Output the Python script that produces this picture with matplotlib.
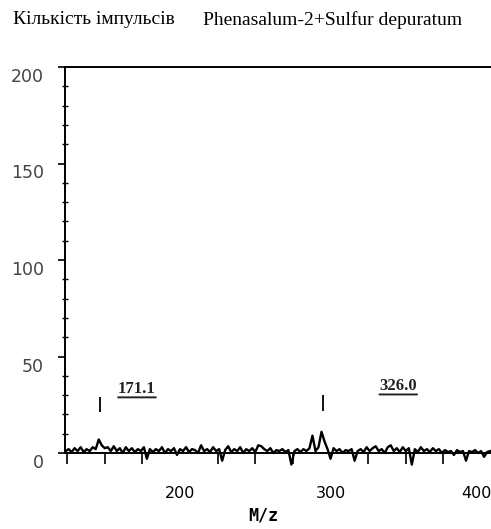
import numpy as np
import matplotlib
matplotlib.use("Agg")
import matplotlib.pyplot as plt
from matplotlib.transforms import ScaledTranslation

# спектр: m/z з кроком 2 і інтенсивність (кількість імпульсів)
mz = np.arange(124, 407, 2)
intensity = [
    1, 2, 0.5, 2.5, 1, 3, 0.5, 2, 1, 3,
    2, 7, 4, 2.5, 3, 1, 3.5, 1, 2.5, 0,
    3, 1, 2.5, 0.5, 2, 1, 3, -3, 2, 0.5,
    2, 1, 3, 0, 2, 1, 2.5, -1, 2, 1,
    3, 0.5, 2, 1.5, 0, 4, 1, 2, 0.5, 3,
    1, 2, -4, 1.5, 3.5, 0.5, 2, 1, 3, 0,
    2, 1, 2.5, 0.5, 4, 3.5, 2, 1, 2.5, 0,
    1.5, 1, 2, 0.5, 1.5, -6, 1, 2, 0.5, 2,
    1, 2.5, 9, 1, 3, 11, 6, 2, -3, 2.5,
    1, 2, 0, 1.5, 1, 2, -4, 1, 2, 0.5,
    3, 1, 2.5, 3.5, 1, 2, 0, 3, 4, 1,
    2.5, 0.5, 3, 1, 2.5, -6, 2, 0.5, 3, 1,
    2, 0.5, 2.5, 1, 2, 0, 1.5, 0.5, 1, -1,
    1.5, 0.5, 1, -4, 1, 0.5, 1.5, 0, 1, -2,
    0.5, 1,
]

# позначки піків
marker_mz = [147, 295]
marker_lo = [21, 22]
marker_hi = [29, 30]
label_mz = [171.4, 345]
label_y = [29, 30.5]
label_text = ["171.1", "326.0"]

xtick_vals = [200, 300, 400]
ytick_vals = [0, 50, 100, 150, 200]

fig = plt.figure(figsize=(4.91, 5.29), dpi=100)
ax = fig.add_axes([65 / 491, 76 / 529, 426 / 491, 386 / 529])

ax.plot(mz, intensity, color="black", lw=1.7, clip_on=False)
ax.vlines(marker_mz, marker_lo, marker_hi, color="black", lw=1.3)
for x, y, t in zip(label_mz, label_y, label_text):
    txt = ax.text(x, y, t, ha="center", va="bottom", fontsize=12,
                  fontweight="bold", family="Liberation Serif", color="#222")
    # підкреслення
    ax.annotate("", xy=(1, -0.02), xycoords=txt, xytext=(0, -0.02), textcoords=txt,
                arrowprops=dict(arrowstyle="-", lw=1.4, color="#222", shrinkA=0, shrinkB=0))

ax.set_xlim(123.6, 406.6)
ax.set_ylim(0, 200)

ax.spines["right"].set_visible(False)
for s in ["left", "top", "bottom"]:
    ax.spines[s].set_linewidth(1.4)

ax.set_yticks(ytick_vals)
ax.set_yticks(np.arange(0, 201, 10), minor=True)
ax.tick_params(axis="y", which="major", direction="out", length=5, width=1.2,
               pad=10, labelsize=12.5, labelcolor="#444")
ax.tick_params(axis="y", which="minor", direction="inout", length=4, width=1)
for lab in ax.get_yticklabels():
    lab.set_transform(lab.get_transform() + ScaledTranslation(0, -0.08, fig.dpi_scale_trans))

ax.set_xticks(xtick_vals)
ax.set_xticks(np.arange(125, 406, 25), minor=True)
ax.tick_params(axis="x", which="major", length=0, pad=24, labelsize=11.5)
ax.tick_params(axis="x", which="minor", direction="out", length=8, width=1.2)
last = ax.get_xticklabels()[-1]
last.set_transform(last.get_transform() + ScaledTranslation(-0.05, 0, fig.dpi_scale_trans))

fig.text(13 / 491, 1 - 20 / 529, "Кількість імпульсів", family="Liberation Serif",
         fontsize=14, va="center", ha="left")
fig.text(203 / 491, 1 - 20 / 529, "Phenasalum-2+Sulfur depuratum", family="Liberation Serif",
         fontsize=14, va="center", ha="left")
fig.text(263 / 491, 1 - 515 / 529, "M/z", family="DejaVu Sans Mono", fontweight="bold",
         fontsize=12, ha="center", va="center")

fig.savefig("out.png", dpi=100)
